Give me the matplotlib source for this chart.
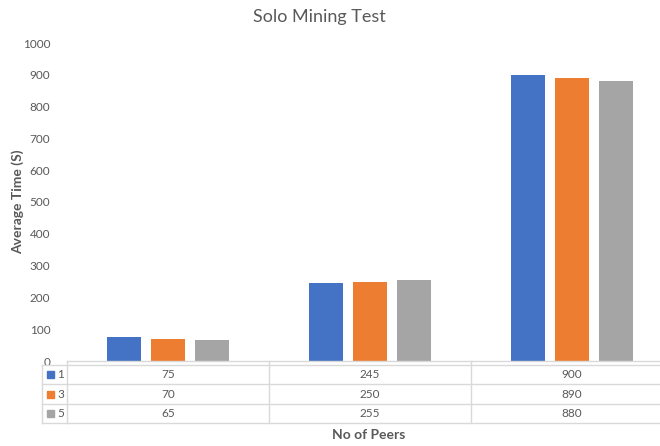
import matplotlib
matplotlib.use("Agg")
import matplotlib.pyplot as plt
import numpy as np
from matplotlib.transforms import blended_transform_factory

plt.rcParams['font.family'] = ['Lato', 'DejaVu Sans']

categories = ["", "", ""]
series_names = ["1", "3", "5"]
values = {
    "1": [75, 245, 900],
    "3": [70, 250, 890],
    "5": [65, 255, 880],
}
colors = ["#4472C4", "#ED7D31", "#A5A5A5"]
yticks = [0, 100, 200, 300, 400, 500, 600, 700, 800, 900, 1000]

W, H = 660, 446
fig = plt.figure(figsize=(W / 100, H / 100), dpi=100)
fig.patch.set_facecolor("white")

# Plot area extends to the right edge of the group frame
left_px, right_px, top_px, bot_px = 67, 673, 43, 361
ax = fig.add_axes([left_px / W, 1 - bot_px / H, (right_px - left_px) / W, (bot_px - top_px) / H])
ax.set_facecolor("none")

txt = "#595959"
grid = "#D9D9D9"

x = np.arange(len(categories))
offsets = [-0.218, 0.0, 0.218]
for name, off, c in zip(series_names, offsets, colors):
    ax.bar(x + off, values[name], width=0.17, color=c, zorder=2)

ax.set_xlim(-0.5, len(categories) - 0.5)
ax.set_ylim(0, 1000)
ax.set_yticks(yticks)
ax.set_yticklabels([str(t) for t in yticks], color=txt, fontsize=8.5)
ax.tick_params(axis="y", length=0, pad=12)
ax.set_xticks([])
for s in ["top", "right", "left"]:
    ax.spines[s].set_visible(False)
ax.spines["bottom"].set_color(grid)
ax.spines["bottom"].set_linewidth(1)

fig.text(319 / W, 1 - 17 / H, "Solo Mining Test", ha="center", va="center",
         fontsize=13, color=txt)
fig.text(18 / W, 1 - 202 / H, "Average Time (S)", ha="center", va="center",
         rotation=90, fontsize=10, color=txt, fontweight="bold")
fig.text(369 / W, 1 - 435 / H, "No of Peers", ha="center", va="center",
         fontsize=10, color=txt, fontweight="bold")

# Data table beneath the axis
tr = blended_transform_factory(ax.transData, fig.transFigure)
def fy(py):
    return 1 - py / H

row_edges = [365, 384, 404, 423]
for py in row_edges:
    fig.add_artist(plt.Line2D([42 / W, right_px / W], [fy(py), fy(py)],
                              color=grid, lw=1, transform=fig.transFigure))
fig.add_artist(plt.Line2D([42 / W, 42 / W], [fy(365), fy(423)],
                          color=grid, lw=1, transform=fig.transFigure))
for b in np.arange(len(categories) + 1) - 0.5:
    fig.add_artist(plt.Line2D([b, b], [fy(361), fy(423)], color=grid, lw=1,
                              transform=tr))

for i, (name, c) in enumerate(zip(series_names, colors)):
    yc = (row_edges[i] + row_edges[i + 1]) / 2
    fig.add_artist(plt.Rectangle((47 / W, fy(yc + 3.5)), 7 / W, 7 / H,
                                 color=c, transform=fig.transFigure))
    fig.text(57 / W, fy(yc), name, ha="left", va="center", fontsize=8.5, color=txt)
    for j, v in enumerate(values[name]):
        fig.text(x[j], fy(yc), str(v), ha="center", va="center", fontsize=8.5,
                 color=txt, transform=tr)

fig.savefig("out.png", dpi=100)
